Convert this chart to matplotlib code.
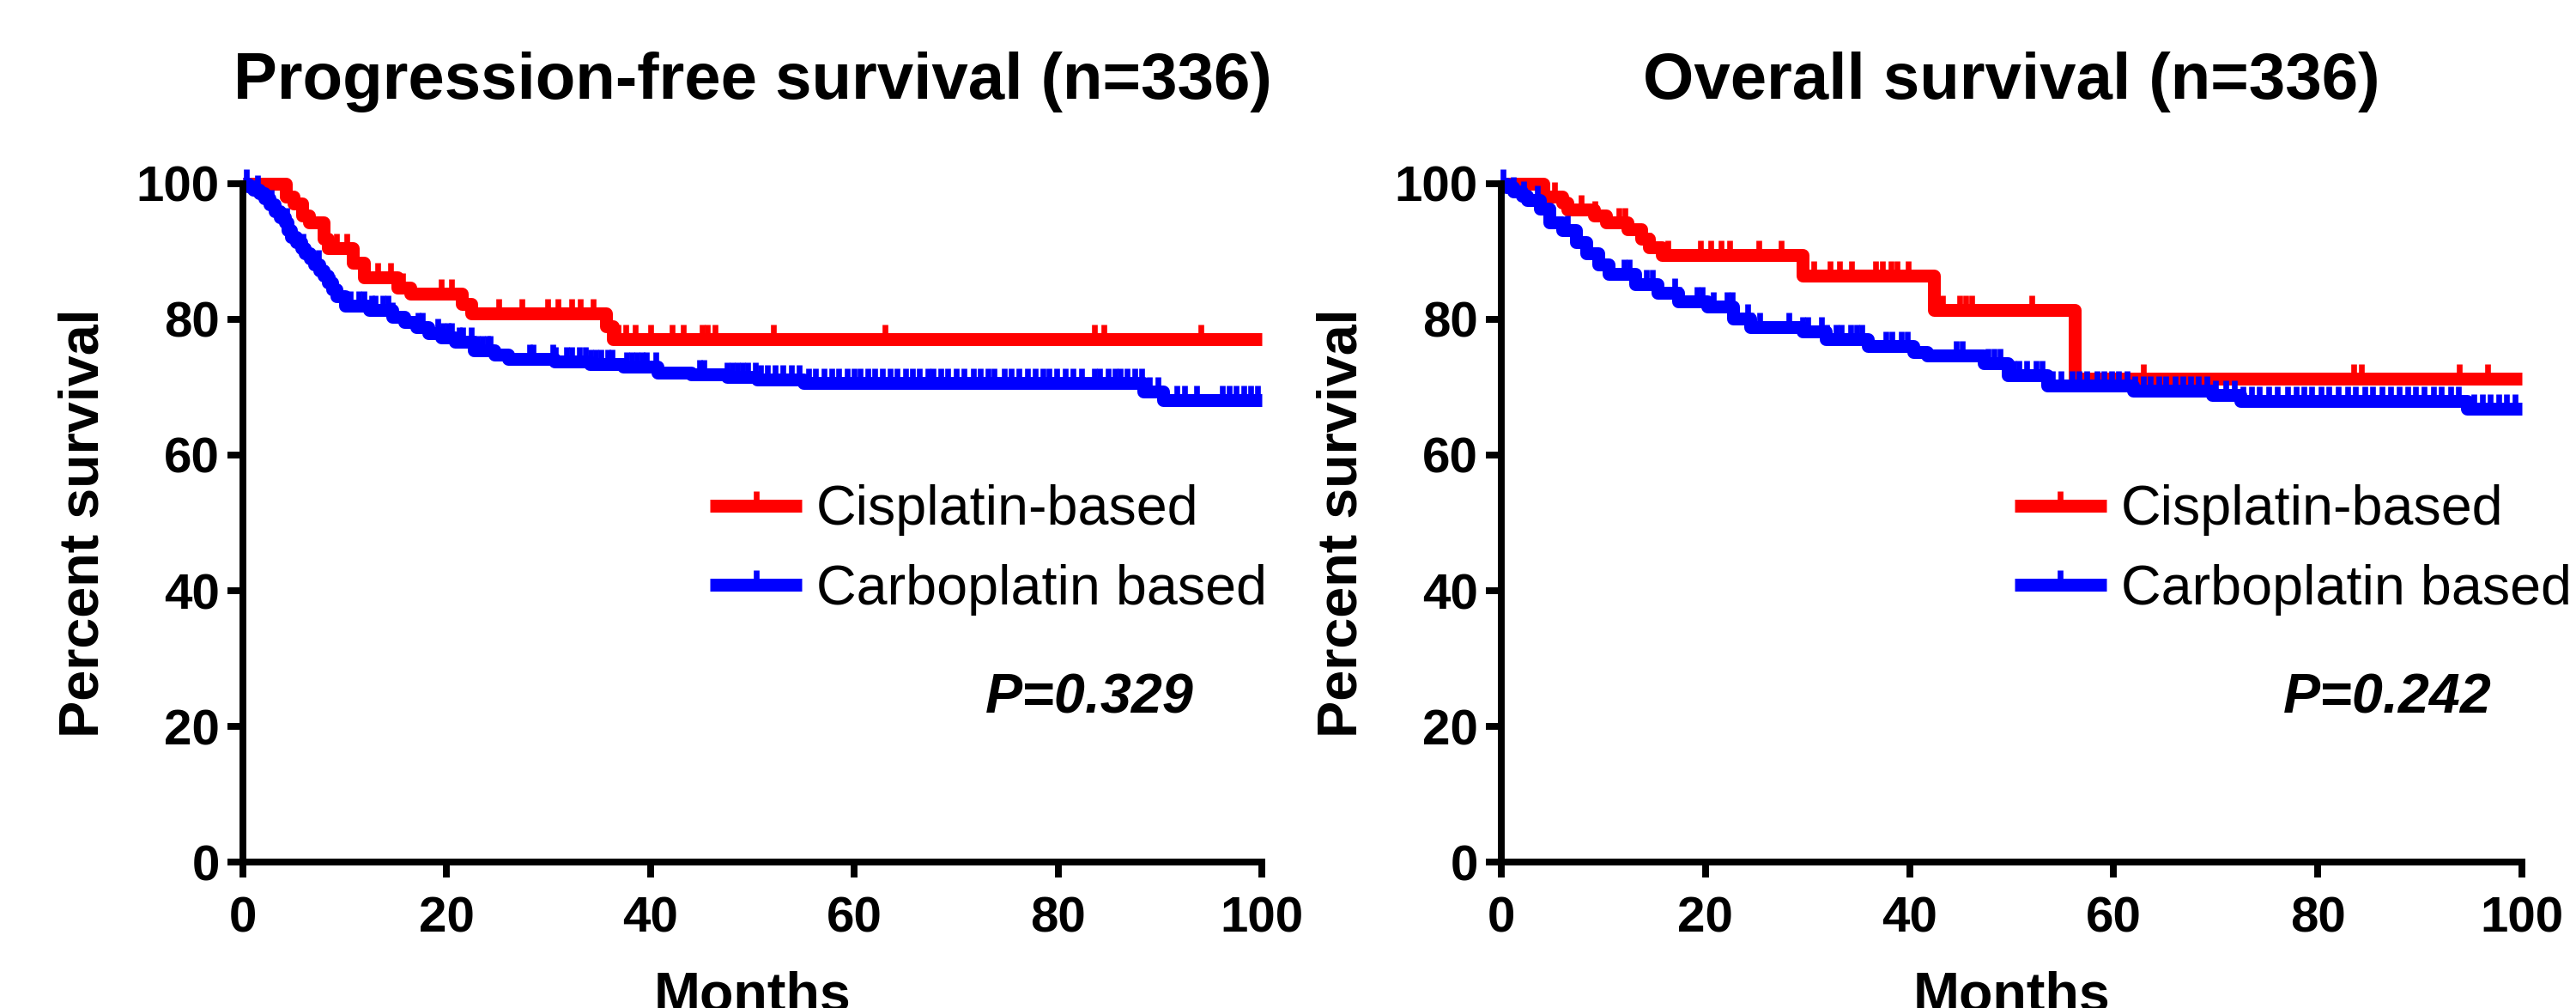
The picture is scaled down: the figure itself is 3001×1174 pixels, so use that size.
import numpy as np
import matplotlib
matplotlib.use('Agg')
import matplotlib.pyplot as plt
from matplotlib import font_manager
from matplotlib.lines import Line2D
from matplotlib.markers import TICKUP

plt.rcParams['font.family'] = ['Liberation Sans', 'DejaVu Sans']

# ---- Progression-free survival (months, percent) ----
pfs_cis_t = [0, 4.2, 5.0, 5.8, 6.5, 7.9, 8.3, 10.8, 11.9, 15.2, 16.4, 21.5, 22.4, 35.6, 36.3, 100]
pfs_cis_s = [100, 98.0, 97.0, 95.2, 94.3, 91.9, 90.4, 88.3, 86.2, 84.7, 83.8, 82.3, 80.9, 79.0, 77.1, 77.1]
pfs_cis_cens = [9.2, 10.2, 13.2, 14.5, 15.7, 19.5, 20.5, 21.5, 25.1, 27.4, 29.9, 30.9, 32.3, 33.1,
                34.4, 36.8, 37.6, 38.5, 40.0, 42.1, 43.2, 45.1, 45.6, 46.3, 52.1, 63.0, 83.6, 84.5, 94.0]

pfs_carbo_t = [0, 0.5, 1.0, 1.6, 2.1, 2.6, 3.1, 3.6, 4.1, 4.4, 4.7, 5.2, 5.7, 6.1, 6.6, 7.0, 7.5,
               7.9, 8.3, 8.8, 9.2, 10.0, 12.4, 14.7, 15.8, 17.0, 18.2, 19.5, 20.8, 22.7, 24.7, 26.0,
               30.6, 34.0, 37.3, 40.7, 44.0, 47.5, 50.5, 55.0, 88.4, 90.3, 100]
pfs_carbo_s = [100, 99.5, 99.0, 98.5, 97.8, 96.9, 95.9, 95.0, 94.2, 93.1, 92.1, 91.3, 90.5, 89.7,
               88.9, 88.0, 87.2, 86.4, 85.4, 84.4, 83.4, 82.0, 81.3, 80.4, 79.6, 78.8, 78.0, 77.3,
               76.7, 75.4, 74.8, 74.2, 73.8, 73.4, 73.0, 72.1, 71.9, 71.5, 71.1, 70.6, 69.3, 68.1, 68.1]
pfs_carbo_cens = [0.3, 1.4, 2.8, 4.3, 5.9, 7.4, 8.8, 10.0, 10.5, 11.4, 11.9, 12.6, 13.0, 13.7, 14.2,
                  14.7, 17.2, 17.6, 19.1, 19.6, 20.1, 20.5, 21.2, 21.6, 22.4, 23.0, 23.5, 24.0, 24.3,
                  28.1, 28.5, 30.4, 30.7, 31.8, 32.3, 33.0, 33.6, 34.1, 34.6, 35.1, 35.8, 36.2, 37.7,
                  38.2, 38.7, 39.2, 39.6, 40.5, 44.8, 45.2, 47.5, 48.0, 48.5, 49.0, 49.5, 50.3, 50.8,
                  51.5, 52.2, 53.0, 53.8, 54.6, 55.5, 56.2, 57.0, 57.8, 58.5, 59.3, 60.0, 60.6, 61.3,
                  62.0, 62.8, 63.5, 64.2, 65.0, 65.7, 66.4, 67.2, 67.7, 68.5, 69.2, 70.0, 70.8, 71.7,
                  72.4, 73.1, 73.7, 74.7, 75.4, 76.2, 77.0, 77.8, 78.5, 79.1, 79.9, 80.7, 81.5, 82.3,
                  83.6, 84.1, 84.9, 85.6, 86.1, 86.8, 87.5, 88.2, 89.0, 89.8, 91.7, 92.4, 93.6, 96.1,
                  96.8, 97.5, 98.2, 98.9, 99.6]

# ---- Overall survival ----
os_cis_t = [0, 4.1, 6.0, 6.5, 9.1, 10.3, 12.4, 13.7, 14.5, 15.7, 29.5, 42.4, 56.2, 100]
os_cis_s = [100, 98.0, 97.1, 96.1, 95.2, 94.2, 93.3, 91.9, 90.6, 89.5, 86.4, 81.3, 71.2, 71.2]
os_cis_cens = [5.2, 7.8, 9.2, 11.5, 12.1, 14.5, 16.3, 19.5, 20.5, 21.5, 22.4, 25.2, 27.4, 30.6,
               32.2, 33.1, 34.3, 36.7, 37.3, 38.2, 38.8, 39.9, 42.7, 43.2, 44.9, 45.5, 46.1, 52.0,
               62.9, 83.5, 84.3, 93.9, 96.6]

os_carbo_t = [0, 0.5, 1.2, 2.0, 2.5, 3.8, 4.7, 6.0, 7.3, 8.3, 9.5, 10.5, 13.1, 15.3, 17.3, 20.2,
              22.7, 24.4, 29.5, 31.8, 35.9, 40.4, 41.7, 47.3, 49.6, 53.5, 61.9, 69.6, 72.4, 94.6, 100]
os_carbo_s = [100, 99.4, 98.8, 98.2, 97.5, 96.3, 94.2, 93.1, 91.4, 89.7, 88.1, 86.6, 85.2, 83.9,
              82.6, 81.8, 80.1, 78.8, 78.2, 77.1, 76.1, 75.2, 74.6, 73.5, 71.7, 70.2, 69.5, 68.8,
              68.0, 66.8, 66.8]
os_carbo_cens = [0.2, 1.2, 2.2, 3.5, 5.0, 6.5, 8.3, 9.5, 12.0, 12.5, 13.2, 14.2, 14.8, 17.0, 17.4,
                 19.2, 19.7, 20.8, 22.1, 22.6, 24.1, 24.5, 25.3, 28.2, 29.5, 30.0, 31.4, 31.9, 32.8,
                 33.3, 34.2, 34.8, 35.3, 37.7, 38.3, 39.2, 39.8, 44.6, 45.2, 47.7, 48.3, 48.9, 50.2,
                 50.7, 51.5, 52.4, 53.0, 54.0, 54.8, 55.9, 56.6, 57.4, 58.4, 59.0, 59.8, 60.5, 61.3,
                 62.1, 62.9, 63.6, 64.4, 65.1, 66.0, 66.8, 67.5, 68.3, 69.1, 70.0, 71.0, 71.8, 72.7,
                 73.5, 74.3, 75.2, 76.0, 77.0, 77.9, 78.6, 79.4, 80.3, 81.1, 82.0, 82.9, 83.7, 84.6,
                 85.4, 86.3, 87.1, 88.0, 88.8, 89.6, 90.4, 91.3, 92.1, 93.0, 93.8, 95.3, 96.1, 96.9,
                 97.7, 98.5, 99.3]

labels = ['Cisplatin-based', 'Carboplatin based']
colors = ['#ff0000', '#0000ff']
titles = ['Progression-free survival (n=336)', 'Overall survival (n=336)']
pvalues = ['P=0.329', 'P=0.242']
ticks = [0, 20, 40, 60, 80, 100]

LW = 3.6      # curve width, points
MS = 4.2      # censor tick height
MEW = 1.6     # censor tick width
AXW = 1.9     # axis line width

# legend and p-value use a condensed face if there is one
narrow_names = [f.name for f in font_manager.fontManager.ttflist if f.name == 'Liberation Sans Narrow']
if narrow_names:
    LEG_FONT = {'family': 'Liberation Sans Narrow', 'size': 18.8}
    P_FONT = {'family': 'Liberation Sans Narrow', 'size': 18.8}
else:
    LEG_FONT = {'family': 'Liberation Sans', 'size': 15.5}
    P_FONT = {'family': 'Liberation Sans', 'size': 15.5}


def km_curve(ax, t, s, cens, color):
    t = np.array(t)
    s = np.array(s)
    ax.plot(t, s, drawstyle='steps-post', color=color, lw=LW, solid_joinstyle='round',
            solid_capstyle='butt', clip_on=False)
    idx = np.searchsorted(t, cens, side='right') - 1
    ax.plot(cens, s[idx], ls='none', marker=TICKUP, ms=MS, mew=MEW, color=color, clip_on=False)


def panel(ax, groups, title, pval, leg_x, p_x):
    for (t, s, cens), color in zip(groups, colors):
        km_curve(ax, t, s, cens, color)

    ax.set_xlim(0, 100)
    ax.set_ylim(0, 100)
    ax.set_xticks(ticks)
    ax.set_yticks(ticks)
    for side in ['top', 'right']:
        ax.spines[side].set_visible(False)
    for side in ['left', 'bottom']:
        ax.spines[side].set_linewidth(AXW)
    ax.tick_params(axis='both', direction='out', length=4.3, width=AXW, labelsize=14)
    ax.tick_params(axis='x', pad=5)
    ax.tick_params(axis='y', pad=2.2)
    for lab in ax.get_xticklabels() + ax.get_yticklabels():
        lab.set_fontweight('bold')

    ax.set_ylabel('Percent survival', fontsize=15.5, fontweight='bold')
    ax.yaxis.set_label_coords(-0.131, 0.5)
    ax.set_xlabel('Months', fontsize=15.5, fontweight='bold')
    ax.xaxis.set_label_coords(0.5, -0.159)

    ax.text(0.5, 1.149, title, transform=ax.transAxes, ha='center', va='center',
            fontsize=18.3, fontweight='bold')
    ax.text(p_x, 24.1, pval, ha='left', va='center', fontweight='bold', fontstyle='italic',
            **P_FONT)

    handles = [Line2D([], [], color=c, lw=LW, marker=TICKUP, ms=MS, mew=MEW,
                      solid_capstyle='butt') for c in colors]
    ax.legend(handles, labels, loc='center left', bbox_to_anchor=(leg_x, 0.4544),
              bbox_transform=ax.figure.transFigure, frameon=False, prop=LEG_FONT,
              handlelength=1.66 * 15.5 / LEG_FONT['size'],
              handletextpad=0.26 * 15.5 / LEG_FONT['size'],
              labelspacing=0.5 * 15.5 / LEG_FONT['size'], numpoints=1,
              borderpad=0, borderaxespad=0)


fig = plt.figure(figsize=(3001 / 300, 1174 / 300), dpi=300)
ax1 = fig.add_axes([0.0943, 0.14438, 0.39553, 0.67376])
ax2 = fig.add_axes([0.58281, 0.14438, 0.39620, 0.67376])

panel(ax1, [(pfs_cis_t, pfs_cis_s, pfs_cis_cens), (pfs_carbo_t, pfs_carbo_s, pfs_carbo_cens)],
      titles[0], pvalues[0], 0.2756, 72.9)
panel(ax2, [(os_cis_t, os_cis_s, os_cis_cens), (os_carbo_t, os_carbo_s, os_carbo_cens)],
      titles[1], pvalues[1], 0.782, 76.6)

fig.savefig('out.png', dpi=300)
